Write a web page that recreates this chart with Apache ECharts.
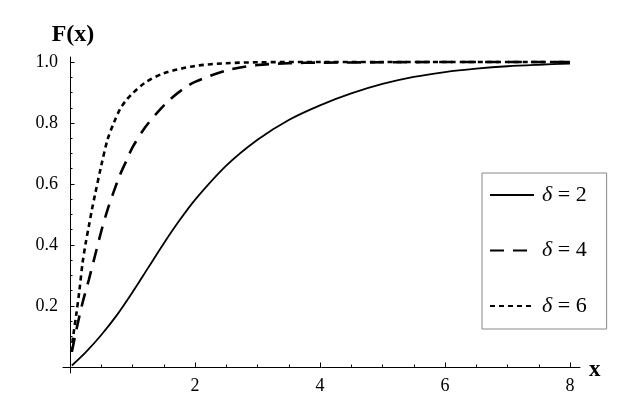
<!DOCTYPE html>
<html>
<head>
<meta charset="utf-8">
<script src="https://cdn.jsdelivr.net/npm/echarts@6/dist/echarts.min.js"></script>
<style>
html, body { margin: 0; padding: 0; background: #fff; }
#chart { width: 634px; height: 412px; }
</style>
</head>
<body>
<div id="chart"></div>
<script>
// values
const deltas = [2, 4, 6];

const xDelta2 = [0.03, 0.25, 0.5, 0.75, 1.0, 1.25, 1.5, 1.75, 2.0, 2.5, 3.0, 3.5, 4.0, 4.5, 5.0, 5.5, 6.0, 6.5, 7.0, 7.5, 8.0];
const fDelta2 = [0.005, 0.048, 0.105, 0.17, 0.245, 0.325, 0.405, 0.48, 0.548, 0.66, 0.745, 0.81, 0.858, 0.897, 0.928, 0.951, 0.967, 0.978, 0.986, 0.991, 0.995];

const xDelta4 = [0.03, 0.1, 0.2, 0.3, 0.4, 0.5, 0.6, 0.7, 0.8, 0.9, 1.0, 1.2, 1.4, 1.6, 1.8, 2.0, 2.5, 3.0, 3.5, 4, 5, 6, 7, 8];
const fDelta4 = [0.05, 0.12, 0.21, 0.285, 0.365, 0.445, 0.515, 0.575, 0.63, 0.675, 0.72, 0.785, 0.835, 0.877, 0.91, 0.935, 0.972, 0.99, 0.996, 0.998, 0.999, 1, 1, 1];

const xDelta6 = [0.02, 0.05, 0.1, 0.15, 0.2, 0.25, 0.3, 0.35, 0.4, 0.5, 0.6, 0.7, 0.8, 0.9, 1.0, 1.2, 1.5, 2.0, 2.5, 3.0, 4, 5, 6, 7, 8];
const fDelta6 = [0.05, 0.10, 0.172, 0.25, 0.34, 0.405, 0.46, 0.515, 0.565, 0.66, 0.745, 0.80, 0.845, 0.875, 0.897, 0.932, 0.963, 0.987, 0.996, 0.999, 1, 1, 1, 1, 1];

const xMajor = [2, 4, 6, 8];
const xMinor = [0.5, 1, 1.5, 2.5, 3, 3.5, 4.5, 5, 5.5, 6.5, 7, 7.5];
const yMajor = [0.2, 0.4, 0.6, 0.8, 1.0];
const yMinor = [0.05, 0.1, 0.15, 0.25, 0.3, 0.35, 0.45, 0.5, 0.55, 0.65, 0.7, 0.75, 0.85, 0.9, 0.95];

const serif = "'Liberation Serif', 'Times New Roman', serif";
const names = deltas.map(d => 'δ = ' + d);

function pairs(xs, ys) {
  return xs.map((x, i) => [x, ys[i]]);
}

const xRange = { min: -0.112, max: 8.16 };
const yRange = { min: -0.0197, max: 1.0164 };

const myChart = echarts.init(document.getElementById('chart'));

const option = {
  animation: false,
  backgroundColor: '#fff',
  grid: {
    left: 63,
    right: 54,
    top: 57,
    bottom: 39,
    containLabel: false,
    outerBoundsMode: 'none'
  },
  legend: {
    orient: 'vertical',
    left: 482,
    top: 173,
    padding: [11, 20, 12, 7],
    itemGap: 33.5,
    itemWidth: 44,
    itemHeight: 14,
    borderColor: '#888',
    borderWidth: 1,
    backgroundColor: '#fff',
    itemStyle: { opacity: 0 },
    data: names,
    formatter: n => '{d|δ}' + n.slice(1),
    textStyle: {
      fontFamily: serif,
      fontSize: 22,
      lineHeight: 22,
      color: '#000',
      padding: [0, 0, 0, 3],
      rich: {
        d: { fontFamily: serif, fontStyle: 'italic', fontSize: 22, lineHeight: 22, color: '#000' }
      }
    }
  },
  xAxis: [
    {
      type: 'value',
      min: xRange.min,
      max: xRange.max,
      position: 'bottom',
      name: 'x',
      nameLocation: 'end',
      nameGap: 9,
      nameTextStyle: {
        fontFamily: serif,
        fontWeight: 'bold',
        fontSize: 23,
        lineHeight: 7,
        color: '#000',
        verticalAlign: 'top'
      },
      axisLine: { onZero: true, onZeroAxisIndex: 0, lineStyle: { color: '#000', width: 1 } },
      axisTick: { show: true, inside: true, length: 4.5, customValues: xMajor, lineStyle: { color: '#000', width: 1 } },
      axisLabel: { customValues: xMajor, margin: 4, color: '#000', fontFamily: serif, fontSize: 18 },
      splitLine: { show: false }
    },
    {
      type: 'value',
      min: xRange.min,
      max: xRange.max,
      position: 'bottom',
      axisLine: { show: false, onZero: true, onZeroAxisIndex: 0 },
      axisTick: { show: true, inside: true, length: 2.5, customValues: xMinor, lineStyle: { color: '#000', width: 1 } },
      axisLabel: { show: false },
      splitLine: { show: false }
    }
  ],
  yAxis: [
    {
      type: 'value',
      min: yRange.min,
      max: yRange.max,
      position: 'left',
      name: 'F(x)',
      nameLocation: 'end',
      nameGap: 10,
      nameTextStyle: {
        fontFamily: serif,
        fontWeight: 'bold',
        fontSize: 24,
        color: '#000',
        verticalAlign: 'bottom',
        padding: [0, 0, 0, 6]
      },
      axisLine: { onZero: true, onZeroAxisIndex: 0, lineStyle: { color: '#000', width: 1 } },
      axisTick: { show: true, inside: true, length: 4.5, customValues: yMajor, lineStyle: { color: '#000', width: 1 } },
      axisLabel: {
        customValues: yMajor,
        margin: 5,
        color: '#000',
        fontFamily: serif,
        fontSize: 18,
        formatter: v => v.toFixed(1)
      },
      splitLine: { show: false }
    },
    {
      type: 'value',
      min: yRange.min,
      max: yRange.max,
      position: 'left',
      axisLine: { show: false, onZero: true, onZeroAxisIndex: 0 },
      axisTick: { show: true, inside: true, length: 2.5, customValues: yMinor, lineStyle: { color: '#000', width: 1 } },
      axisLabel: { show: false },
      splitLine: { show: false }
    }
  ],
  series: [
    {
      name: names[0],
      type: 'line',
      data: pairs(xDelta2, fDelta2),
      showSymbol: false,
      symbol: 'none',
      smooth: 0.3,
      lineStyle: { color: '#000', width: 1.8, type: 'solid' },
      itemStyle: { color: '#000' }
    },
    {
      name: names[1],
      type: 'line',
      data: pairs(xDelta4, fDelta4),
      showSymbol: false,
      symbol: 'none',
      smooth: 0.3,
      lineStyle: { color: '#000', width: 2.6, type: [14, 9] },
      itemStyle: { color: '#000' }
    },
    {
      name: names[2],
      type: 'line',
      data: pairs(xDelta6, fDelta6),
      showSymbol: false,
      symbol: 'none',
      smooth: 0.3,
      lineStyle: { color: '#000', width: 2.6, type: [5, 4] },
      itemStyle: { color: '#000' }
    }
  ]
};

myChart.setOption(option);
</script>
</body>
</html>
